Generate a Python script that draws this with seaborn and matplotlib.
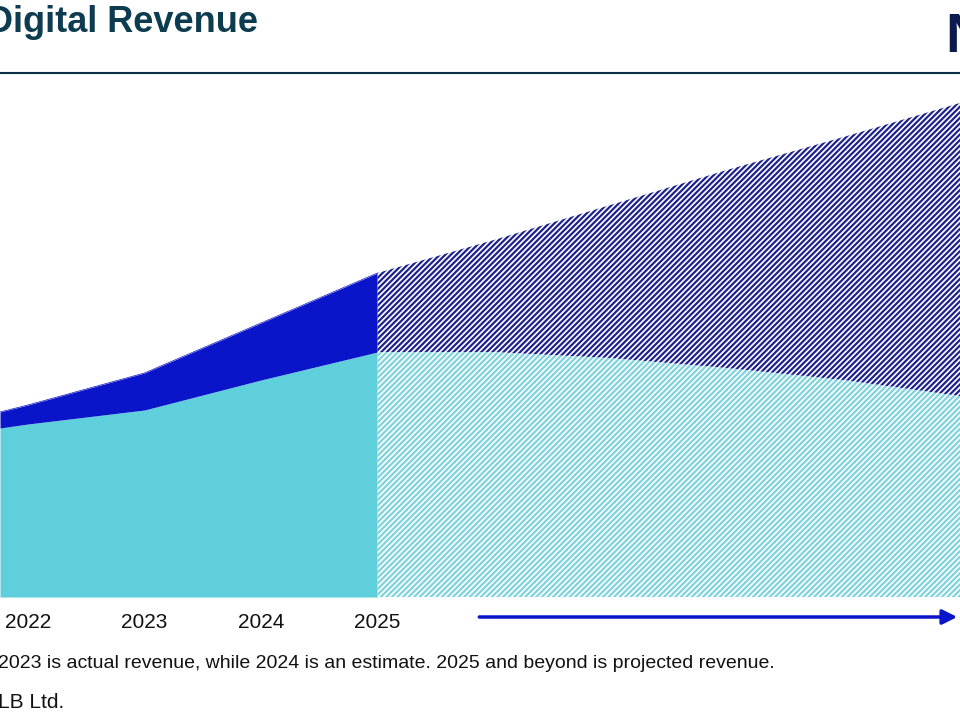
import matplotlib
matplotlib.use("Agg")
import matplotlib.pyplot as plt
import seaborn as sns
import pandas as pd

# values (arbitrary units, no y axis shown)
actual_years = [2021.76, 2022, 2023, 2024, 2025]
actual_base = [169, 173, 187, 217, 245]
actual_total = [185, 192, 224, 274, 324]

proj_years = [2025, 2026, 2027, 2028, 2029, 2030]
proj_base = [245, 245, 239, 229, 217, 201]
proj_total = [324, 357, 392, 427, 460, 494]

year_labels = ["2022", "2023", "2024", "2025"]
label_years = [2022, 2023, 2024, 2025]

sns.set_style("white")
plt.rcParams['font.family'] = ['Liberation Sans', 'DejaVu Sans']
plt.rcParams['hatch.linewidth'] = 1.6

fig = plt.figure(figsize=(9.6, 7.2), dpi=100)
ax = fig.add_axes([0, 1 - 597 / 720, 1, (597 - 73) / 720])

cyan = "#5fcfdc"
blue = "#0a14c8"

df = pd.DataFrame({"year": actual_years, "base": actual_base, "total": actual_total})
ax.fill_between(df["year"], 0, df["base"], color=cyan, lw=0)
ax.fill_between(df["year"], df["base"], df["total"], color=blue, lw=0)
sns.lineplot(data=df, x="year", y="total", ax=ax, color=blue, lw=0.5)

ax.fill_between(proj_years, 0, proj_base, facecolor="white", edgecolor="#7fd3dd",
                hatch="//////", lw=0)
ax.fill_between(proj_years, proj_base, proj_total, facecolor="white", edgecolor="#1d2290",
                hatch="//////", lw=0)

ax.set_xlim(2021.76, 2030.0)
ax.set_ylim(0, 524)
ax.set_xlabel("")
ax.set_ylabel("")
ax.set_xticks([])
ax.set_yticks([])
for s in ax.spines.values():
    s.set_visible(False)

# header rule, title, logo
fig.add_artist(plt.Line2D([0, 1], [1 - 73 / 720] * 2, color="#0d2f45", lw=1.5))
fig.text(-0.014, 1 - 22 / 720, "Digital Revenue", fontsize=26, fontweight="bold",
         color="#0d3b4f", va="center", ha="left")
fig.text(0.985, 1 - 38 / 720, "N", fontsize=40, fontweight="bold",
         color="#0d1a4f", va="center", ha="left")

for yr, lab in zip(label_years, year_labels):
    ax.text(yr, -26, lab, fontsize=15, ha="center", va="center", color="#111111")

ax.annotate("", xy=(2030.0, -20), xytext=(2025.85, -20),
            arrowprops=dict(arrowstyle="-|>", color=blue, lw=2.5, mutation_scale=22),
            annotation_clip=False)

fig.text(-0.002, 1 - 663 / 720,
         "2023 is actual revenue, while 2024 is an estimate. 2025 and beyond is projected revenue.",
         fontsize=14, va="center", ha="left", color="#111111")
fig.text(-0.002, 1 - 703 / 720, "LB Ltd.", fontsize=15, va="center", ha="left", color="#111111")

fig.savefig("out.png", dpi=100)
